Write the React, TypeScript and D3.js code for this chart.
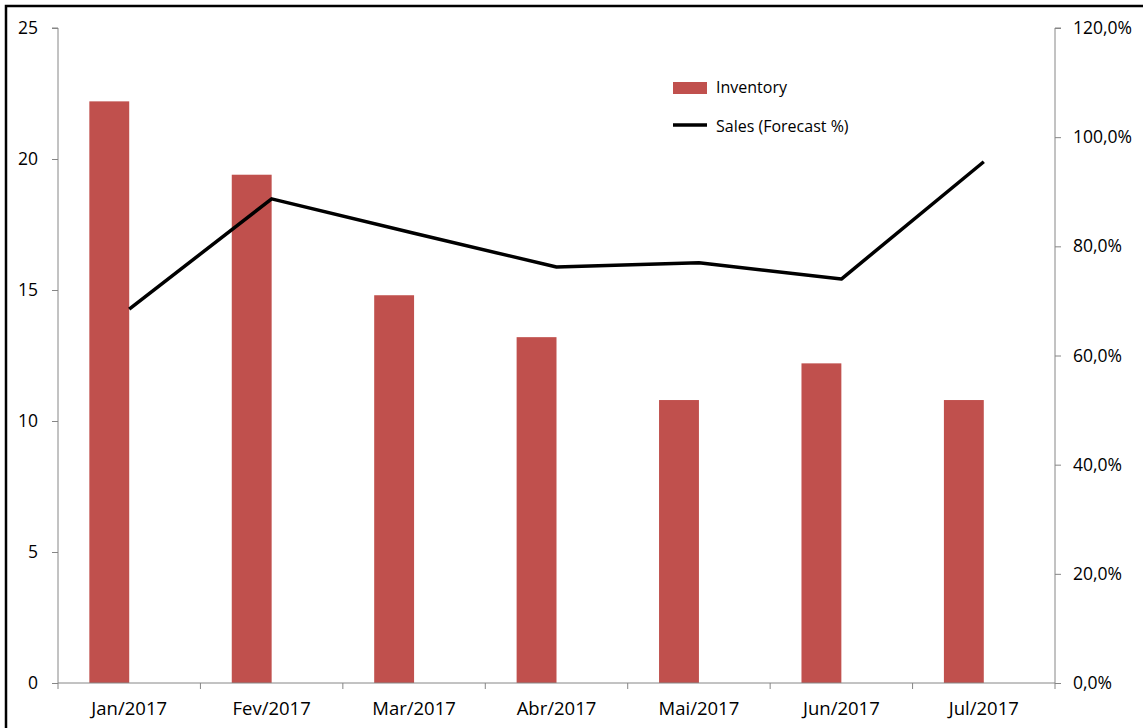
import { useEffect, useRef } from 'react';
import * as d3 from 'd3';

const months = ['Jan/2017', 'Fev/2017', 'Mar/2017', 'Abr/2017', 'Mai/2017', 'Jun/2017', 'Jul/2017'];
const inventory = [22.2, 19.4, 14.8, 13.2, 10.8, 12.2, 10.8];
const salesForecast = [68.5, 88.7, 82.4, 76.2, 77.0, 74.0, 95.5];
const leftTicks = [0, 5, 10, 15, 20, 25];
const rightTicks = [0, 20, 40, 60, 80, 100, 120];

export default function App() {
  const svgRef = useRef<SVGSVGElement>(null);

  useEffect(() => {
    if (!svgRef.current) return;
    const width = 1143;
    const height = 728;
    const margin = { top: 28, right: 88, bottom: 45, left: 58 };
    const font = "'Open Sans', 'Liberation Sans', sans-serif";
    const axisColor = '#868686';

    const svg = d3.select(svgRef.current);
    svg.selectAll('*').remove();
    svg.attr('width', width).attr('height', height);

    // outer frame (right / bottom edges fall outside the picture)
    svg.append('rect')
      .attr('x', 6).attr('y', 6)
      .attr('width', width + 20).attr('height', height + 20)
      .attr('fill', 'white')
      .attr('stroke', '#000').attr('stroke-width', 2.5);

    const x0 = margin.left;
    const x1 = width - margin.right;
    const y0 = height - margin.bottom;
    const y1 = margin.top;

    const x = d3.scaleBand<string>().domain(months).range([x0, x1]).padding(0);
    const yLeft = d3.scaleLinear().domain([0, 25]).range([y0, y1]);
    const yRight = d3.scaleLinear().domain([0, 120]).range([y0, y1]);
    const barW = x.bandwidth() * 0.28;
    const center = (m: string) => (x(m) ?? 0) + x.bandwidth() / 2;

    const g = svg.append('g');

    // bars
    g.selectAll('rect.bar')
      .data(months)
      .join('rect')
      .attr('class', 'bar')
      .attr('x', (m) => center(m) - barW)
      .attr('width', barW)
      .attr('y', (_, i) => yLeft(inventory[i]))
      .attr('height', (_, i) => y0 - yLeft(inventory[i]))
      .attr('fill', '#C0504D');

    // left axis
    const left = g.append('g').attr('transform', `translate(${x0},0)`)
      .call(d3.axisLeft(yLeft).tickValues(leftTicks).tickSize(6).tickPadding(14).tickFormat(d3.format('d')));
    left.select('.domain').attr('stroke', axisColor).attr('d', `M-6,${y1}H0V${y0}`);
    left.selectAll('line').attr('stroke', axisColor);
    left.selectAll('text').style('font-family', font).style('font-size', '17.5px').style('fill', '#000');

    // right axis
    const right = g.append('g').attr('transform', `translate(${x1},0)`)
      .call(d3.axisRight(yRight).tickValues(rightTicks).tickSize(6).tickPadding(12)
        .tickFormat((d) => `${(+d).toFixed(1).replace('.', ',')}%`));
    right.select('.domain').attr('stroke', axisColor).attr('d', `M6,${y1}H0V${y0}`);
    right.selectAll('line').attr('stroke', axisColor);
    right.selectAll('text').style('font-family', font).style('font-size', '17.5px').style('fill', '#000');

    // bottom axis
    const bottom = g.append('g').attr('transform', `translate(0,${y0})`);
    bottom.append('line').attr('x1', x0).attr('x2', x1).attr('stroke', axisColor);
    bottom.selectAll('line.tick')
      .data([...months.map((m) => x(m) ?? 0), x1])
      .join('line')
      .attr('class', 'tick')
      .attr('x1', (d) => d).attr('x2', (d) => d)
      .attr('y1', 0).attr('y2', 6)
      .attr('stroke', axisColor);
    bottom.selectAll('text')
      .data(months)
      .join('text')
      .attr('x', (m) => center(m))
      .attr('y', 32)
      .attr('text-anchor', 'middle')
      .style('font-family', font).style('font-size', '18.5px').style('fill', '#000')
      .text((m) => m);

    // sales line
    const line = d3.line<number>()
      .x((_, i) => center(months[i]))
      .y((d) => yRight(d));
    g.append('path')
      .datum(salesForecast)
      .attr('d', line)
      .attr('fill', 'none')
      .attr('stroke', '#000')
      .attr('stroke-width', 3.5)
      .attr('stroke-linejoin', 'round');

    // legend
    const legend = g.append('g').attr('transform', 'translate(673,0)');
    legend.append('rect')
      .attr('x', 0).attr('y', 82).attr('width', 34).attr('height', 12)
      .attr('fill', '#C0504D');
    legend.append('text')
      .attr('x', 43).attr('y', 93)
      .style('font-family', font).style('font-size', '16px').style('fill', '#000')
      .text('Inventory');
    legend.append('line')
      .attr('x1', 0).attr('x2', 34).attr('y1', 125).attr('y2', 125)
      .attr('stroke', '#000').attr('stroke-width', 3.5);
    legend.append('text')
      .attr('x', 43).attr('y', 132)
      .style('font-family', font).style('font-size', '16px').style('fill', '#000')
      .text('Sales (Forecast %)');
  }, []);

  return (
    <div style={{ position: 'fixed', left: 0, top: 0, width: 1143, height: 728, overflow: 'hidden', background: 'white' }}>
      <svg ref={svgRef} style={{ display: 'block' }} />
    </div>
  );
}
